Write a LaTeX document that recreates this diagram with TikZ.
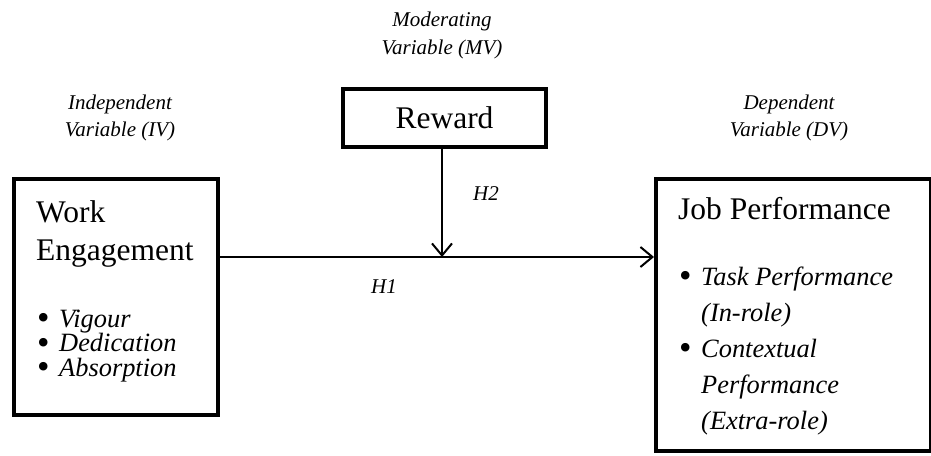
\documentclass[tikz,border=0pt]{standalone}
\usepackage{fontspec}
\usepackage{graphicx}
\setmainfont{Liberation Serif}
\usetikzlibrary{arrows.meta}
\newcommand{\itm}[1]{\makebox[22pt][l]{\raisebox{-2.8pt}{\scalebox{1.35}{•}}}\textit{#1}}
\newcommand{\itmcont}[1]{\hspace*{22pt}\textit{#1}}
\newcommand{\leftstack}[1]{\vtop{\halign{##\hfil\cr#1\crcr}}}
\newcommand{\centerstack}[1]{\vtop{\halign{\hfil##\hfil\cr#1\crcr}}}

\begin{document}
\begin{tikzpicture}[x=1pt, y=-1pt,
    box_style/.style={draw=black, line width=4pt, rectangle, inner sep=0pt},
    title_style/.style={anchor=base west, inner sep=0pt, font=\fontsize{31.5}{38}\selectfont},
    item_style/.style={anchor=base west, inner sep=0pt, font=\fontsize{26.4}{24.5}\selectfont},
    label_style/.style={anchor=base, inner sep=0pt, font=\fontsize{21}{27.5}\selectfont\itshape},
    arrow_style/.style={draw=black, line width=2pt, -{Straight Barb[length=12pt,width=20pt]}}]

    \useasboundingbox (0,0) rectangle (931,455);

    % the three boxes
    \node[box_style, minimum width=204pt, minimum height=236pt] (engagement) at (116,297) {};
    \node[box_style, minimum width=203pt, minimum height=58pt] (reward) at (444.5,118) {};
    \node[box_style, minimum width=275pt, minimum height=272pt] (performance) at (793.5,315) {};

    % box contents
    \node[title_style, anchor=base] (rewardtext) at (444.5,128) {Reward};
    \node[title_style] (engtitle) at (36,222) {\leftstack{Work\cr Engagement}};
    \node[item_style] (englist) at (37,327) {\leftstack{\itm{Vigour}\cr\itm{Dedication}\cr\itm{Absorption}}};
    \node[title_style] (perftitle) at (678,219) {Job Performance};
    \node[item_style, font=\fontsize{26.4}{36}\selectfont] (perflist) at (679,285)
        {\leftstack{\itm{Task Performance}\cr\itmcont{(In-role)}\cr\itm{Contextual}\cr\itmcont{Performance}\cr\itmcont{(Extra-role)}}};

    % variable labels
    \node[label_style] (ivlabel) at (120,109) {\centerstack{Independent\cr Variable (IV)}};
    \node[label_style] (mvlabel) at (442,27) {\centerstack{Moderating\cr Variable (MV)}};
    \node[label_style] (dvlabel) at (789,109) {\centerstack{Dependent\cr Variable (DV)}};
    \node[label_style] (h1) at (384,293) {H1};
    \node[label_style] (h2) at (486,200) {H2};

    % paths
    \coordinate (junction) at (442,257);
    \draw[arrow_style] (engagement.east |- junction) -- (performance.west |- junction);
    \draw[arrow_style] (reward.south -| junction) -- (junction);
\end{tikzpicture}
\end{document}
